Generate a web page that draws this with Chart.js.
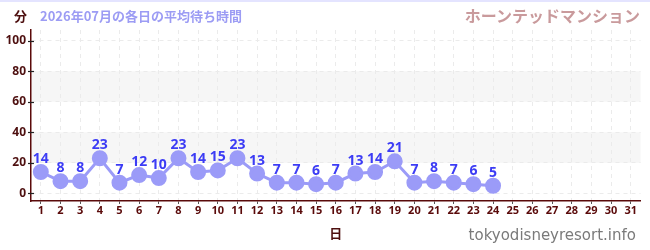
<!DOCTYPE html>
<html>
<head>
<meta charset="utf-8">
<script src="https://cdn.jsdelivr.net/npm/chart.js@4"></script>
<style>
    body { margin: 0; background: #fff; font-family: "Noto Sans CJK JP", "Noto Sans", sans-serif; }
    #wrap { position: relative; width: 650px; height: 250px; border-top: 2px solid #e4e4ff; box-sizing: border-box; }
    #wrap canvas { position: absolute; left: 0; top: 0; }
    .txt { position: absolute; font-weight: bold; white-space: nowrap; }
    #unit { left: 14px; top: 4px; font-size: 13px; color: #4d0f0f; }
    #sub { left: 40px; top: 4px; font-size: 13px; color: #9c9cf4; }
    #ride { right: 10px; top: 1px; font-size: 16px; color: #c99a9c; }
    #site { right: 14px; bottom: 6px; font-size: 15px; color: #7a7a7a; font-weight: normal; font-family: "DejaVu Sans", sans-serif; }
</style>
</head>
<body>
<div id="wrap">
    <canvas id="chart" width="650" height="248"></canvas>
    <div class="txt" id="unit">分</div>
    <div class="txt" id="sub">2026年07月の各日の平均待ち時間</div>
    <div class="txt" id="ride">ホーンテッドマンション</div>
    <div class="txt" id="site">tokyodisneyresort.info</div>
</div>
<script>
// 日付 (1..31)
const days = ["1","2","3","4","5","6","7","8","9","10","11","12","13","14","15","16",
              "17","18","19","20","21","22","23","24","25","26","27","28","29","30","31"];

// 平均待ち時間 (分)
const waitTimes = [14, 8, 8, 23, 7, 12, 10, 23, 14, 15, 23, 13, 7, 7, 6, 7,
                   13, 14, 21, 7, 8, 7, 6, 5, null, null, null, null, null, null, null];

// 背景の帯
const bands = [[20, 40], [60, 80]];

const maroon = '#4d0f0f';

// 帯を描く
const bandPlugin = {
    id: 'bands',
    beforeDraw(chart) {
        const ctx = chart.ctx;
        const area = chart.chartArea;
        const y = chart.scales.y;
        ctx.save();
        ctx.fillStyle = '#f6f6f6';
        bands.forEach(b => {
            const top = y.getPixelForValue(b[1]);
            const bottom = y.getPixelForValue(b[0]);
            ctx.fillRect(area.left, top, area.right - area.left, bottom - top);
        });
        ctx.restore();
    }
};

// 値ラベル
const labelPlugin = {
    id: 'valueLabels',
    afterDatasetsDraw(chart) {
        const ctx = chart.ctx;
        const meta = chart.getDatasetMeta(0);
        ctx.save();
        ctx.fillStyle = '#3c3cf5';
        ctx.font = 'bold 14px "Noto Sans", sans-serif';
        ctx.textAlign = 'center';
        ctx.textBaseline = 'bottom';
        meta.data.forEach((pt, i) => {
            const v = waitTimes[i];
            if (v === null) return;
            ctx.fillText(String(v), pt.x, pt.y - 6);
        });
        ctx.restore();
    }
};

// y軸の目盛り線 (軸をまたぐ)
const yTickPlugin = {
    id: 'yTicks',
    afterDraw(chart) {
        const ctx = chart.ctx;
        const y = chart.scales.y;
        const x0 = chart.chartArea.left;
        ctx.save();
        ctx.lineWidth = 1.2;
        y.ticks.forEach(t => {
            const py = Math.round(y.getPixelForValue(t.value)) + 0.5;
            const major = t.value % 20 === 0;
            ctx.strokeStyle = major ? '#222' : '#e00000';
            ctx.beginPath();
            ctx.moveTo(x0 - 3, py);
            ctx.lineTo(major ? x0 + 3 : x0, py);
            ctx.stroke();
        });
        ctx.restore();
    }
};

new Chart(document.getElementById('chart'), {
    type: 'line',
    data: {
        labels: days,
        datasets: [{
            data: waitTimes,
            borderColor: '#9b9bf8',
            backgroundColor: '#9b9bf8',
            borderWidth: 3,
            pointRadius: 6.5,
            pointHoverRadius: 6.5,
            tension: 0,
            spanGaps: false
        }]
    },
    options: {
        responsive: false,
        animation: false,
        layout: { padding: { top: 28, right: 9, left: 0, bottom: 9 } },
        plugins: {
            legend: { display: false },
            tooltip: { enabled: false }
        },
        scales: {
            x: {
                type: 'category',
                offset: true,
                grid: {
                    color: '#ebebeb',
                    drawTicks: true,
                    tickLength: 3,
                    tickColor: '#555'
                },
                border: { color: '#5a0a0a', width: 1.5, dash: [4, 4] },
                ticks: {
                    color: '#5a0a0a',
                    font: { size: 11, weight: 'bold', family: '"Noto Sans", sans-serif' },
                    padding: 0,
                    maxRotation: 0,
                    autoSkip: false
                },
                title: {
                    display: true,
                    text: '日',
                    color: maroon,
                    font: { size: 13, weight: 'bold', family: '"Noto Sans CJK JP", sans-serif' },
                    padding: { top: 4, bottom: 0 }
                },
                afterFit(scale) { scale.height = 40; }
            },
            y: {
                min: -5,
                max: 107,
                afterBuildTicks(scale) {
                    const t = [];
                    for (let v = 0; v <= 100; v += 10) t.push({ value: v });
                    scale.ticks = t;
                },
                grid: {
                    color: '#ebebeb',
                    drawTicks: false
                },
                border: { color: '#5a0a0a', width: 1.5, dash: [4, 4] },
                ticks: {
                    color: maroon,
                    font: { size: 12, weight: 'bold', family: '"Noto Sans", sans-serif' },
                    padding: 5,
                    callback: v => (v % 20 === 0 ? String(v) : '')
                },
                afterFit(scale) { scale.width = 31; }
            }
        }
    },
    plugins: [bandPlugin, labelPlugin, yTickPlugin]
});
</script>
</body>
</html>
